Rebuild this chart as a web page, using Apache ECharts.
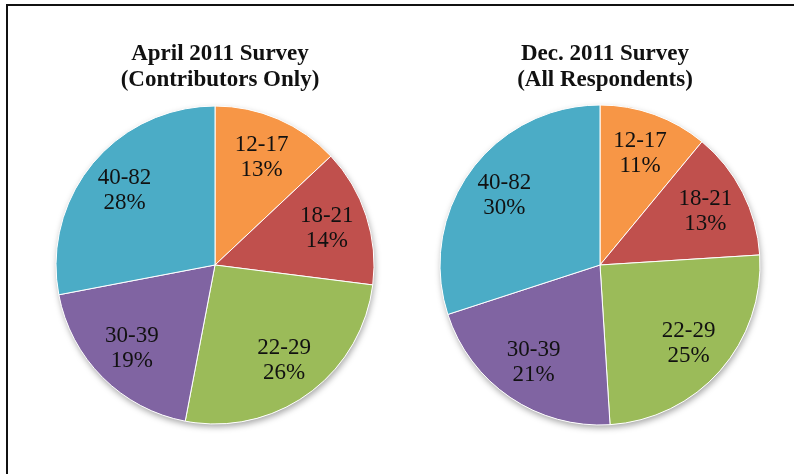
<!DOCTYPE html>
<html>
<head>
<meta charset="utf-8">
<script src="https://cdn.jsdelivr.net/npm/echarts@6/dist/echarts.min.js"></script>
<style>
  html, body { margin: 0; padding: 0; background: #fff; overflow: hidden; }
  #frame { position: absolute; left: 6px; top: 4px; width: 900px; height: 600px; border-left: 2px solid #111; border-top: 2px solid #111; }
  #chart { position: absolute; left: 0; top: 0; width: 794px; height: 474px; }
</style>
</head>
<body>
<div id="frame"></div>
<div id="chart"></div>
<script>
const categories = ['12-17', '18-21', '22-29', '30-39', '40-82'];
const aprilValues = [13, 14, 26, 19, 28];
const decValues = [11, 13, 25, 21, 30];
const titles = ['April 2011 Survey\n(Contributors Only)', 'Dec. 2011 Survey\n(All Respondents)'];
const colors = ['#F79646', '#C0504D', '#9BBB59', '#8064A2', '#4BACC6'];

const chart = echarts.init(document.getElementById('chart'), null, { renderer: 'canvas' });

function pieSet(values, center, radius) {
  const data = categories.map((c, i) => ({ name: c, value: values[i] }));
  return [
    {
      type: 'pie', center: center, radius: radius, silent: true, z: 1,
      startAngle: 90, clockwise: true,
      label: { show: false }, labelLine: { show: false },
      itemStyle: { color: '#fff', shadowColor: 'rgba(0,0,0,0.35)', shadowBlur: 6, shadowOffsetY: 3, shadowOffsetX: 1 },
      data: [{ name: 'bg', value: 1 }]
    },
    {
      type: 'pie', center: center, radius: radius, silent: true, z: 2,
      startAngle: 90, clockwise: true,
      label: { show: false }, labelLine: { show: false },
      itemStyle: { borderColor: '#fff', borderWidth: 1 },
      color: colors,
      data: data
    },
    {
      type: 'pie', center: center, radius: [radius * 0.44, radius], silent: true, z: 3,
      startAngle: 90, clockwise: true,
      itemStyle: { color: 'rgba(0,0,0,0)' },
      labelLine: { show: false },
      label: {
        show: true, position: 'inside',
        formatter: p => p.name + '\n' + p.value + '%',
        fontFamily: 'Liberation Serif', fontSize: 23, lineHeight: 25, color: '#111'
      },
      data: data
    }
  ];
}

const titleStyle = { fontFamily: 'Liberation Serif', fontWeight: 'bold', fontSize: 23, lineHeight: 26, color: '#111' };
const option = {
  animation: false,
  title: [
    { text: titles[0], left: 215, top: 36, textAlign: 'center', textStyle: titleStyle },
    { text: titles[1], left: 600, top: 36, textAlign: 'center', textStyle: titleStyle }
  ],
  series: [].concat(pieSet(aprilValues, [215, 265], 159), pieSet(decValues, [600, 265], 160))
};
chart.setOption(option);
</script>
</body>
</html>
